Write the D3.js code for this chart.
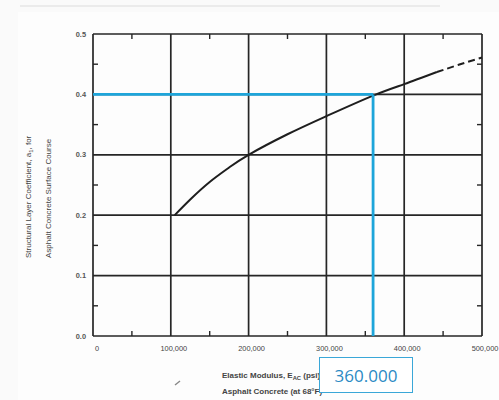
<!DOCTYPE html>
<html><head><meta charset="utf-8">
<script src="https://cdn.jsdelivr.net/npm/d3@7/dist/d3.min.js"></script>
<style>body{margin:0;background:#fff}svg{display:block}</style>
</head><body>
<svg id="c" width="499" height="400"></svg>
<script>
// ---- data ----
const xTicks = [0, 100000, 200000, 300000, 400000, 500000];
const xTickLabels = ["0", "100,000", "200,000", "300,000", "400,000", "500,000"];
const yTicks = [0, 0.1, 0.2, 0.3, 0.4, 0.5];
const yTickLabels = ["0.0", "0.1", "0.2", "0.3", "0.4", "0.5"];
const xMinor = [50000, 150000, 250000, 350000, 450000];
const yMinor = [0.05, 0.15, 0.25, 0.35, 0.45];
const curveE = [105000, 125000, 150000, 175000, 200000, 250000, 300000, 360000, 400000, 442000];
const curveA = [0.200, 0.226, 0.255, 0.279, 0.300, 0.334, 0.364, 0.398, 0.417, 0.437];
const dashE = [442000, 470000, 500000];
const dashA = [0.437, 0.449, 0.461];
const readE = 360000, readA = 0.4;
const readLabel = "360.000";

const svg = d3.select("#c");
const x = d3.scaleLinear().domain([0, 500000]).range([93, 482]);
const y = d3.scaleLinear().domain([0, 0.5]).range([336, 34]);
const ink = "#262626";

// faint scan edge
svg.append("rect").attr("x",0).attr("y",0).attr("width",499).attr("height",400).attr("fill","#fafafa");
svg.append("rect").attr("x",18).attr("y",12).attr("width",481).attr("height",388).attr("fill","#fdfdfd");
svg.append("line").attr("x1",20).attr("x2",440).attr("y1",6).attr("y2",6).attr("stroke","#e6e6e6").attr("stroke-width",1.5);

const g = svg.append("g");
// grid lines
g.selectAll("line.vx").data(xTicks).join("line")
  .attr("x1", d => x(d)).attr("x2", d => x(d)).attr("y1", y(0)).attr("y2", y(0.5))
  .attr("stroke", ink).attr("stroke-width", 1.7);
g.selectAll("line.hy").data(yTicks).join("line")
  .attr("x1", x(0)).attr("x2", x(500000)).attr("y1", d => y(d)).attr("y2", d => y(d))
  .attr("stroke", ink).attr("stroke-width", 1.7);
// minor ticks
g.selectAll("line.mxb").data(xMinor).join("line")
  .attr("x1", d => x(d)).attr("x2", d => x(d)).attr("y1", y(0)).attr("y2", y(0) - 5)
  .attr("stroke", ink).attr("stroke-width", 1.4);
g.selectAll("line.mxt").data(xMinor).join("line")
  .attr("x1", d => x(d)).attr("x2", d => x(d)).attr("y1", y(0.5)).attr("y2", y(0.5) + 5)
  .attr("stroke", ink).attr("stroke-width", 1.4);
g.selectAll("line.myl").data(yMinor).join("line")
  .attr("x1", x(0)).attr("x2", x(0) + 5).attr("y1", d => y(d)).attr("y2", d => y(d))
  .attr("stroke", ink).attr("stroke-width", 1.4);
g.selectAll("line.myr").data(yMinor).join("line")
  .attr("x1", x(500000)).attr("x2", x(500000) - 5).attr("y1", d => y(d)).attr("y2", d => y(d))
  .attr("stroke", ink).attr("stroke-width", 1.4);

// curve
const line = d3.line().x(d => x(d[0])).y(d => y(d[1])).curve(d3.curveNatural);
g.append("path").datum(d3.zip(curveE, curveA)).attr("d", line)
  .attr("fill", "none").attr("stroke", "#1e1e1e").attr("stroke-width", 2);
g.append("path").datum(d3.zip(dashE, dashA)).attr("d", line)
  .attr("fill", "none").attr("stroke", "#1e1e1e").attr("stroke-width", 2).attr("stroke-dasharray", "7,4");

// tick labels
const tf = "'Liberation Sans', Arial, sans-serif";
g.selectAll("text.xl").data(xTicks).join("text")
  .attr("x", (d, i) => x(d) + (i === 0 ? 4 : 3)).attr("y", 351)
  .attr("text-anchor", "middle").attr("font-family", tf).attr("font-size", 7.4)
  .attr("fill", "#444").text((d, i) => xTickLabels[i]);
g.selectAll("text.yl").data(yTicks).join("text")
  .attr("x", 86).attr("y", d => y(d) + 2.5)
  .attr("text-anchor", "end").attr("font-family", tf).attr("font-size", 7.4).attr("font-weight", "bold")
  .attr("fill", "#555").text((d, i) => yTickLabels[i]);

// axis titles
const yt = g.append("text").attr("transform", "translate(31,258) rotate(-90)")
  .attr("text-anchor", "start").attr("font-family", tf).attr("font-size", 8).attr("fill", "#444");
yt.append("tspan").text("Structural Layer Coefficient, a");
yt.append("tspan").attr("font-size", 5.8).attr("dy", 2).text("1");
yt.append("tspan").attr("dy", -2).text(", for");
g.append("text").attr("transform", "translate(51,258) rotate(-90)")
  .attr("text-anchor", "start").attr("font-family", tf).attr("font-size", 8).attr("fill", "#444")
  .text("Asphalt Concrete Surface Course");

const xt = g.append("text").attr("x", 222).attr("y", 378)
  .attr("font-family", tf).attr("font-size", 8).attr("font-weight", "bold").attr("fill", "#444");
xt.append("tspan").text("Elastic Modulus, E");
xt.append("tspan").attr("font-size", 5.8).attr("dy", 2).text("AC");
xt.append("tspan").attr("dy", -2).text(" (psi), for");
g.append("text").attr("x", 222).attr("y", 394)
  .attr("font-family", tf).attr("font-size", 8).attr("font-weight", "bold").attr("fill", "#444")
  .text("Asphalt Concrete (at 68°F)");
// stray mark
g.append("line").attr("x1", 175).attr("y1", 385).attr("x2", 180).attr("y2", 381)
  .attr("stroke", "#888").attr("stroke-width", 1.5);

// reading lines
const blue = "#1ea5da";
g.append("line").attr("x1", x(0)).attr("x2", x(readE)).attr("y1", y(readA)).attr("y2", y(readA))
  .attr("stroke", blue).attr("stroke-width", 2.8);
g.append("line").attr("x1", x(readE)).attr("x2", x(readE)).attr("y1", y(readA)).attr("y2", y(0))
  .attr("stroke", blue).attr("stroke-width", 2.8);

// value box (covers part of the axis title, as in the reference)
g.append("rect").attr("x", 319.5).attr("y", 357.5).attr("width", 93).attr("height", 35)
  .attr("fill", "#fff").attr("stroke", "#3aa7d8").attr("stroke-width", 1);
g.append("text").attr("x", 366).attr("y", 382).attr("text-anchor", "middle")
  .attr("font-family", "'Open Sans', 'Noto Sans', sans-serif").attr("font-size", 17)
  .attr("fill", "#2b8ac4").text(readLabel);
</script>
</body></html>
